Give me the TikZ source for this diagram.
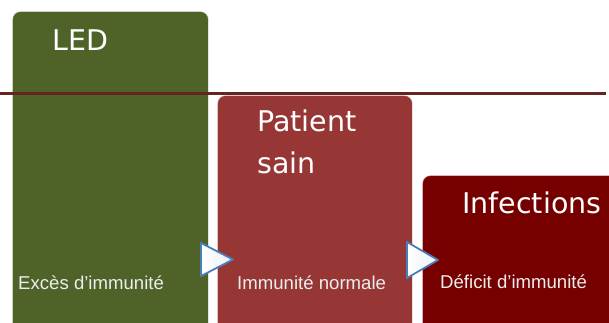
\documentclass[tikz,border=0pt]{standalone}
\usepackage{fontspec}
\setmainfont{Liberation Sans}
\newfontfamily\titlefont{DejaVu Sans}
\definecolor{ledgreen}{RGB}{79,98,40}
\definecolor{sainred}{RGB}{150,55,53}
\definecolor{infred}{RGB}{118,0,0}
\definecolor{rulered}{RGB}{99,36,35}
\definecolor{arrowblue}{RGB}{74,126,187}
\begin{document}
\begin{tikzpicture}[x=1pt,y=-1pt,
  stage/.style={draw=white, draw opacity=0.55, line width=0.9pt,
    rounded corners=8pt, anchor=north west, inner sep=0pt},
  title/.style={font=\titlefont\fontsize{28.5}{42}\selectfont, text=white,
    anchor=base west, inner sep=0pt, align=left},
  caption/.style={font=\fontsize{18.6}{20}\selectfont, text=white!93!black,
    anchor=base west, inner sep=0pt},
  chevron/.style={draw=arrowblue, line width=1.8pt, line join=round,
    left color=white, right color=arrowblue!12}
]
\useasboundingbox (0,0) rectangle (609,322);
\clip (0,0) rectangle (609,322);

% three stages, stepping down from left to right
\node[stage, fill=ledgreen, minimum width=196pt, minimum height=330pt] (led) at (12,11) {};
\node[stage, fill=sainred, minimum width=195pt, minimum height=250pt] (sain) at (217,95) {};
\node[stage, fill=infred, minimum width=200pt, minimum height=170pt] (inf) at (422,175) {};

% titles (a two-line node sits on the baseline of its last line)
\node[title] (ledtitle) at (52,50) {LED};
\node[title] (saintitle) at (257,173) {Patient\\sain};
\node[title] (inftitle) at (462,213) {Infections};

% captions
\node[caption] (ledcap) at (18,289) {Excès d’immunité};
\node[caption] (saincap) at (237,289) {Immunité normale};
\node[caption] (infcap) at (440,288) {Déficit d’immunité};

% horizontal rule
\coordinate (ruleL) at (0,93);
\coordinate (ruleR) at (606,93);
\draw[rulered, line width=3pt] (ruleL) -- (ruleR);

% arrow heads between the stages
\draw[chevron] (201,243) -- (201,276) -- (233,259.5) -- cycle;
\draw[chevron] (407,242) -- (407,278) -- (438,260) -- cycle;
\end{tikzpicture}
\end{document}
